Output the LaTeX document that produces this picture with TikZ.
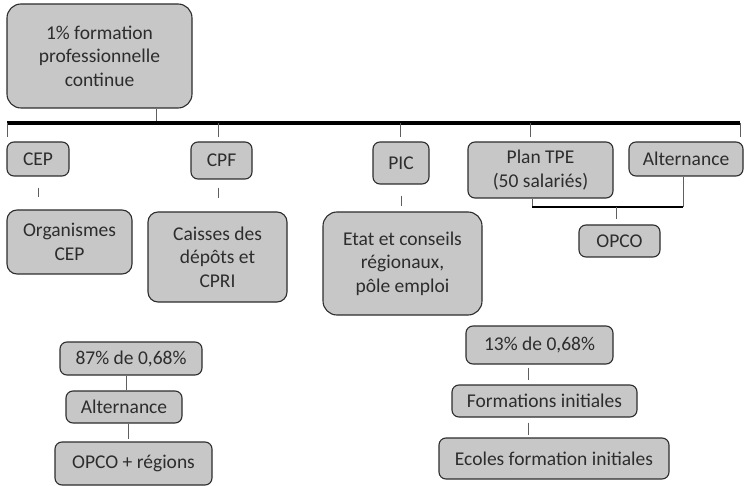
\documentclass[tikz,border=0pt]{standalone}
\usepackage{fontspec}
\setmainfont{Carlito}
\usetikzlibrary{positioning}
\definecolor{boxfill}{RGB}{199,199,199}
\definecolor{boxline}{RGB}{45,45,45}
\definecolor{stemgray}{RGB}{95,95,95}

\begin{document}
\begin{tikzpicture}[
    x=1pt, y=-1pt,
    every node/.style={
      font=\fontsize{19.5}{23.5}\selectfont,
      text=boxline
    },
    box/.style={
      rectangle,
      rounded corners=7pt,
      draw=boxline,
      line width=1.1pt,
      fill=boxfill,
      inner sep=0pt,
      align=center
    },
    stem/.style={draw=stemgray, line width=0.9pt},
    bus/.style={draw=black, line width=3.2pt},
    ]
    \useasboundingbox (0,0) rectangle (744,486);

    % top of the tree
    \node (top) [box, rounded corners=14pt, minimum width=185, minimum height=104] at (99.5,56)
      {1\% formation\\professionnelle\\continue};

    % first row
    \node (cep)  [box, minimum width=62,  minimum height=34] at (38,159)    {CEP};
    \node (cpf)  [box, minimum width=61,  minimum height=37] at (221.5,160.5) {CPF};
    \node (pic)  [box, minimum width=56,  minimum height=42] at (401,163)   {PIC};
    \node (tpe)  [box, minimum width=145, minimum height=56] at (540.5,170) {Plan TPE\\(50 salariés)};
    \node (alt)  [box, minimum width=114, minimum height=34] at (686,159)   {Alternance};
    \node (opco) [box, minimum width=81,  minimum height=32] at (619.5,241) {OPCO};

    % second row
    \node (org)  [box, rounded corners=10pt, minimum width=125, minimum height=64]  at (69.5,242)  {Organismes\\CEP};
    \node (cdc)  [box, rounded corners=10pt, minimum width=139, minimum height=90]  at (217.5,257) {Caisses des\\dépôts et\\CPRI};
    \node (etat) [box, rounded corners=14pt, minimum width=159, minimum height=103] at (402.5,263.5) {Etat et conseils\\régionaux,\\pôle emploi};

    % lower groups
    \node (p87)  [box, minimum width=142, minimum height=33] at (131,358.5)   {87\% de 0,68\%};
    \node (alt2) [box, minimum width=116, minimum height=32] at (124,407)     {Alternance};
    \node (reg)  [box, minimum width=157, minimum height=43] at (133.5,463.5) {OPCO + régions};

    \node (p13)  [box, minimum width=147, minimum height=38] at (539.5,345) {13\% de 0,68\%};
    \node (fi)   [box, minimum width=185, minimum height=32] at (544.5,401) {Formations initiales};
    \node (eco)  [box, minimum width=230, minimum height=41] at (554,458.5) {Ecoles formation initiales};

    % main bus
    \coordinate (busL) at (7,123);
    \coordinate (busR) at (740,123);
    \coordinate (topstem) at (156,123);
    \draw[stem] (topstem |- top.south) -- (topstem);
    \draw[bus] (busL) -- (busR);

    \foreach \n/\x in {cep/7, cpf/218, pic/400, tpe/530, alt/740}{
      \coordinate (drop-\n) at (\x,137);
      \draw[stem] (drop-\n |- busL) -- (drop-\n);
    }

    % short stems
    \draw[stem, shorten <=11pt, shorten >=12pt] (cep.south) -- (cep.south |- org.north);
    \path ([xshift=-3.5pt]cpf.south) coordinate (s-cpf);
    \draw[stem, shorten <=8pt, shorten >=13pt] (s-cpf) -- (s-cpf |- cdc.north);
    \draw[stem, shorten <=11pt, shorten >=5pt] (pic.south) -- (pic.south |- etat.north);

    % bracket to OPCO
    \path ([xshift=-8.5pt]tpe.south) coordinate (brkL)
          ([xshift=-3pt]alt.south) coordinate (brkR);
    \coordinate (brk) at (616,207);
    \draw[stem] (brkL) -- (brkL |- brk);
    \draw[stem] (brkR) -- (brkR |- brk);
    \draw[bus, line width=2.6pt] (brkL |- brk) -- (brkR |- brk);
    \draw[stem, shorten >=5pt] (brk) -- (brk |- opco.north);

    % left group
    \path ([xshift=2pt]alt2.north) coordinate (s-a);
    \draw[stem] (s-a |- p87.south) -- (s-a);
    \path ([xshift=4pt]alt2.south) coordinate (s-b);
    \draw[stem, shorten >=2pt] (s-b) -- (s-b |- reg.north);

    % right group
    \path ([xshift=-11.5pt]p13.south) coordinate (s-c);
    \draw[stem, shorten <=3pt, shorten >=4pt] (s-c) -- (s-c |- fi.north);
    \path ([xshift=-16.5pt]fi.south) coordinate (s-d);
    \draw[stem, shorten <=5pt, shorten >=2pt] (s-d) -- (s-d |- eco.north);
  \end{tikzpicture}
\end{document}
